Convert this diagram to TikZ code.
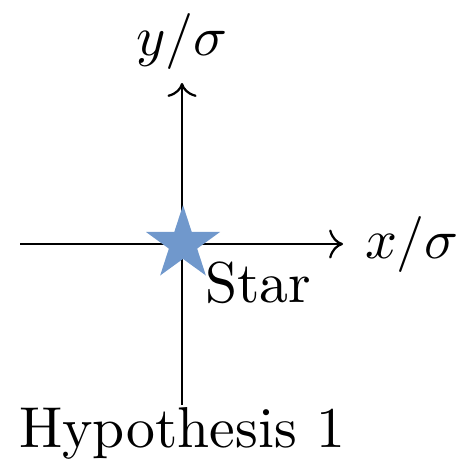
\documentclass[tikz,border=0pt]{standalone}
\usepackage{amsmath,amssymb}
\usepackage{tikz}
\usetikzlibrary{shapes.geometric}
\usetikzlibrary{arrows.meta}

\definecolor{starblue}{RGB}{112,152,204}

\begin{document}
\begin{tikzpicture}[
    x=0.1786pt, y=0.1786pt,
    axis/.style={->, line width=0.4pt, black},
    lbl/.style={inner sep=0pt, font=\fontsize{10.3}{12}\selectfont},
    starmark/.style={star, star points=5, star point ratio=2.618, fill=starblue, draw=none, inner sep=0pt, minimum size=13.9pt}
]

% --- FRAME ---
\useasboundingbox (0,0) rectangle (463,461);

% --- AXES ---
\coordinate (org) at (183,217);
\coordinate (xmin) at (20,217);
\coordinate (xmax) at (343,217);
\coordinate (ymin) at (182,56);
\coordinate (ymax) at (182,378);

\draw[axis] (xmin) -- (xmax);
\draw[axis] (ymin) -- (ymax);

% --- STAR ---
\node[starmark] (star) at (org) {};

% --- LABELS ---
\node[lbl, anchor=base] (xlab) at (412,203) {$x/\sigma$};
\node[lbl, anchor=base] (ylab) at (182,406) {$y/\sigma$};
\node[lbl, anchor=base west] (starlab) at (204,159) {Star};
\node[lbl, anchor=base] (hyp) at (182,14) {Hypothesis 1};

\end{tikzpicture}
\end{document}
